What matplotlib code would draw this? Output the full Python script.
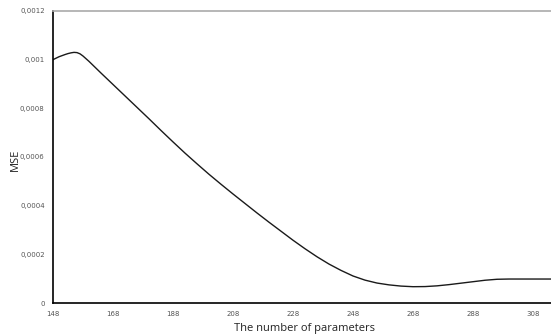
import matplotlib
matplotlib.use("Agg")
import matplotlib.pyplot as plt

# MSE vs number of parameters
params = [148, 150, 152, 153, 154, 155, 156, 157, 158, 159, 160, 162, 164, 168,
          172, 176, 180, 184, 188, 192, 196, 200, 204, 208, 212, 216, 220, 224,
          228, 232, 236, 240, 244, 248, 252, 256, 260, 264, 268, 272, 276, 280,
          284, 288, 292, 296, 300, 304, 308, 312, 314]
mse = [0.001000, 0.001012, 0.001021, 0.001025, 0.001028, 0.001030, 0.001029,
       0.001024, 0.001015, 0.001004, 0.000993, 0.000969, 0.000945, 0.000898,
       0.000851, 0.000804, 0.000757, 0.000709, 0.000662, 0.000616, 0.000572,
       0.000529, 0.000488, 0.000448, 0.000409, 0.000370, 0.000332, 0.000295,
       0.000258, 0.000223, 0.000190, 0.000160, 0.000134, 0.000111, 0.000094,
       0.000082, 0.0000745, 0.0000695, 0.0000670, 0.0000675, 0.0000705,
       0.0000755, 0.0000815, 0.0000875, 0.0000935, 0.0000975, 0.0000985,
       0.0000985, 0.0000985, 0.0000985, 0.0000985]

xticks = [148, 168, 188, 208, 228, 248, 268, 288, 308]
yticks = [0, 0.0002, 0.0004, 0.0006, 0.0008, 0.001, 0.0012]
ytick_labels = ["0", "0,0002", "0,0004", "0,0006", "0,0008", "0,001", "0,0012"]

fig = plt.figure(figsize=(5.51, 3.35), dpi=100)
ax = fig.add_axes([53 / 551, 32 / 335, 498 / 551, 292 / 335])

ax.plot(params, mse, color="#1a1a1a", linewidth=1.0)

ax.set_xlim(148, 314)
ax.set_ylim(0, 0.0012)
ax.set_xticks(xticks)
ax.set_xticklabels([str(t) for t in xticks])
ax.set_yticks(yticks)
ax.set_yticklabels(ytick_labels)
ax.tick_params(length=0, labelsize=5, colors="#555555", pad=6)

ax.spines["right"].set_visible(False)
ax.spines["top"].set_color("#aaaaaa")
ax.spines["top"].set_linewidth(1.2)
ax.spines["left"].set_linewidth(1.2)
ax.spines["bottom"].set_linewidth(1.2)

ax.set_xlabel("The number of parameters", fontsize=8, color="#222222",
              family="Open Sans")
ax.set_ylabel("MSE", fontsize=8, color="#222222", family="Open Sans")
ax.xaxis.set_label_coords(0.506, -0.068)
ax.yaxis.set_label_coords(-0.064, 0.49)

fig.savefig("out.png", dpi=100)
